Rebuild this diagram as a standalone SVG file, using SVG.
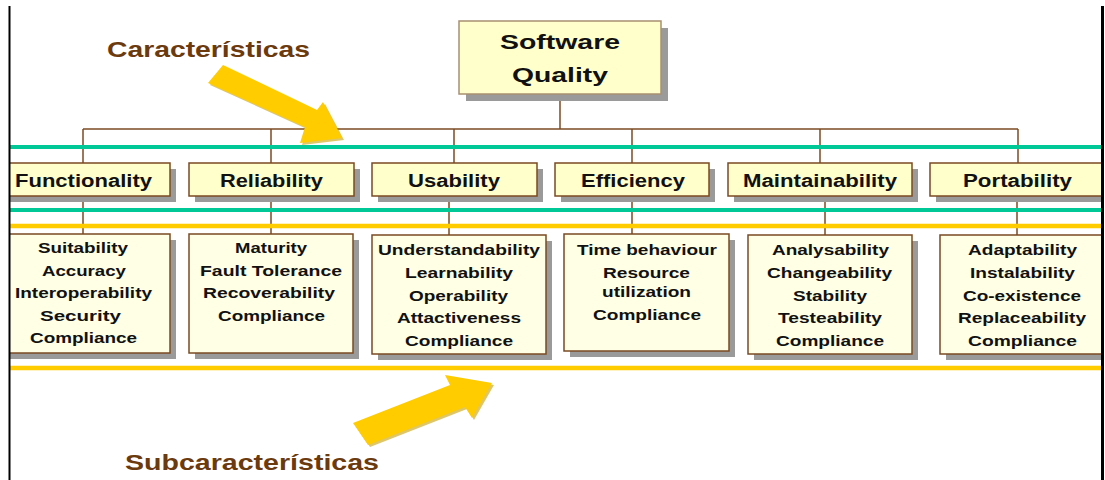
<svg xmlns="http://www.w3.org/2000/svg" width="1105" height="480" viewBox="0 0 1105 480">
<style>
text{font-family:"Liberation Sans",Arial,sans-serif;font-weight:bold;fill:#111}
.top{font-size:21px}
.ch{font-size:18px}
.sb{font-size:15px}
.ttl{font-size:22px;fill:#6B3A0E}
.shadow{fill:#9a9a9a}
.cbox{fill:#FFFFCC;stroke:#7B4A22;stroke-width:1.5}
.sbox{fill:#FFFFE6;stroke:#7B4A22;stroke-width:1.5}
.tbox{fill:#FFFFCC;stroke:#A89070;stroke-width:1.5}
.con{stroke:#7B4A22;stroke-width:1.5;fill:none}
.green{stroke:#00C896;stroke-width:4}
.yellow{stroke:#FFCC00;stroke-width:4.5}
.arrow{fill:#FFCC00}
.ashadow{fill:#C9A000;opacity:0.6}
</style>
<defs>
<clipPath id="frame"><rect x="10" y="0" width="1091" height="480"/></clipPath>
</defs>
<rect x="0" y="0" width="1105" height="480" fill="#fff"/>
<g clip-path="url(#frame)">
<g id="connectors">
<line class="con" x1="560" y1="94" x2="560" y2="129"/>
<line class="con" x1="83" y1="129" x2="1018" y2="129"/>
<line class="con" x1="83" y1="129" x2="83" y2="163"/>
<line class="con" x1="271" y1="129" x2="271" y2="163"/>
<line class="con" x1="454" y1="129" x2="454" y2="163"/>
<line class="con" x1="632" y1="129" x2="632" y2="163"/>
<line class="con" x1="820" y1="129" x2="820" y2="163"/>
<line class="con" x1="1018" y1="129" x2="1018" y2="163"/>
<line class="con" x1="83" y1="196" x2="83" y2="234"/>
<line class="con" x1="271" y1="196" x2="271" y2="234"/>
<line class="con" x1="449" y1="196" x2="449" y2="235"/>
<line class="con" x1="632" y1="196" x2="632" y2="234"/>
<line class="con" x1="825" y1="196" x2="825" y2="235"/>
<line class="con" x1="1017" y1="196" x2="1017" y2="235"/>
</g>
<g id="bands">
<line class="green" x1="0" y1="147" x2="1105" y2="147"/>
<line class="green" x1="0" y1="210" x2="1105" y2="210"/>
<line class="yellow" x1="0" y1="226" x2="1105" y2="226"/>
<line class="yellow" x1="0" y1="368" x2="1105" y2="368"/>
</g>
<g id="software-quality">
<rect class="shadow" x="466" y="28" width="202" height="73"/>
<rect class="tbox" x="459" y="21" width="202" height="73"/>
<text class="top" x="500" y="49" textLength="120" lengthAdjust="spacingAndGlyphs">Software</text>
<text class="top" x="512" y="82" textLength="96" lengthAdjust="spacingAndGlyphs">Quality</text>
</g>
<g id="functionality">
<rect class="shadow" x="1" y="169" width="175" height="33"/>
<rect class="cbox" x="-5" y="163" width="175" height="33"/>
<text class="ch" x="15" y="187" textLength="137" lengthAdjust="spacingAndGlyphs">Functionality</text>
</g>
<g id="reliability">
<rect class="shadow" x="195" y="169" width="165" height="33"/>
<rect class="cbox" x="189" y="163" width="165" height="33"/>
<text class="ch" x="220" y="187" textLength="103" lengthAdjust="spacingAndGlyphs">Reliability</text>
</g>
<g id="usability">
<rect class="shadow" x="378" y="169" width="165" height="33"/>
<rect class="cbox" x="372" y="163" width="165" height="33"/>
<text class="ch" x="408" y="187" textLength="92" lengthAdjust="spacingAndGlyphs">Usability</text>
</g>
<g id="efficiency">
<rect class="shadow" x="561" y="169" width="154" height="33"/>
<rect class="cbox" x="555" y="163" width="154" height="33"/>
<text class="ch" x="581" y="187" textLength="104" lengthAdjust="spacingAndGlyphs">Efficiency</text>
</g>
<g id="maintainability">
<rect class="shadow" x="734" y="169" width="184" height="33"/>
<rect class="cbox" x="728" y="163" width="184" height="33"/>
<text class="ch" x="743" y="187" textLength="154" lengthAdjust="spacingAndGlyphs">Maintainability</text>
</g>
<g id="portability">
<rect class="shadow" x="936" y="169" width="180" height="33"/>
<rect class="cbox" x="930" y="163" width="180" height="33"/>
<text class="ch" x="963" y="187" textLength="109" lengthAdjust="spacingAndGlyphs">Portability</text>
</g>
<g id="functionality-sub">
<rect class="shadow" x="1" y="240" width="175" height="119"/>
<rect class="sbox" x="-5" y="234" width="175" height="119"/>
<text class="sb" x="38" y="253" textLength="90" lengthAdjust="spacingAndGlyphs">Suitability</text>
<text class="sb" x="42" y="276" textLength="84" lengthAdjust="spacingAndGlyphs">Accuracy</text>
<text class="sb" x="15" y="298" textLength="137" lengthAdjust="spacingAndGlyphs">Interoperability</text>
<text class="sb" x="40" y="321" textLength="81" lengthAdjust="spacingAndGlyphs">Security</text>
<text class="sb" x="30" y="343" textLength="107" lengthAdjust="spacingAndGlyphs">Compliance</text>
</g>
<g id="reliability-sub">
<rect class="shadow" x="195" y="240" width="164" height="119"/>
<rect class="sbox" x="189" y="234" width="164" height="119"/>
<text class="sb" x="235" y="253" textLength="72" lengthAdjust="spacingAndGlyphs">Maturity</text>
<text class="sb" x="200" y="276" textLength="142" lengthAdjust="spacingAndGlyphs">Fault Tolerance</text>
<text class="sb" x="203" y="298" textLength="132" lengthAdjust="spacingAndGlyphs">Recoverability</text>
<text class="sb" x="218" y="321" textLength="107" lengthAdjust="spacingAndGlyphs">Compliance</text>
</g>
<g id="usability-sub">
<rect class="shadow" x="378" y="241" width="174" height="119"/>
<rect class="sbox" x="372" y="235" width="174" height="119"/>
<text class="sb" x="378" y="255" textLength="162" lengthAdjust="spacingAndGlyphs">Understandability</text>
<text class="sb" x="405" y="278" textLength="108" lengthAdjust="spacingAndGlyphs">Learnability</text>
<text class="sb" x="409" y="301" textLength="99" lengthAdjust="spacingAndGlyphs">Operability</text>
<text class="sb" x="397" y="323" textLength="124" lengthAdjust="spacingAndGlyphs">Attactiveness</text>
<text class="sb" x="405" y="346" textLength="108" lengthAdjust="spacingAndGlyphs">Compliance</text>
</g>
<g id="efficiency-sub">
<rect class="shadow" x="570" y="240" width="165" height="117"/>
<rect class="sbox" x="564" y="234" width="165" height="117"/>
<text class="sb" x="577" y="255" textLength="140" lengthAdjust="spacingAndGlyphs">Time behaviour</text>
<text class="sb" x="603" y="278" textLength="87" lengthAdjust="spacingAndGlyphs">Resource</text>
<text class="sb" x="602" y="297" textLength="89" lengthAdjust="spacingAndGlyphs">utilization</text>
<text class="sb" x="593" y="320" textLength="108" lengthAdjust="spacingAndGlyphs">Compliance</text>
</g>
<g id="maintainability-sub">
<rect class="shadow" x="754" y="241" width="164" height="119"/>
<rect class="sbox" x="748" y="235" width="164" height="119"/>
<text class="sb" x="772" y="255" textLength="117" lengthAdjust="spacingAndGlyphs">Analysability</text>
<text class="sb" x="767" y="278" textLength="125" lengthAdjust="spacingAndGlyphs">Changeability</text>
<text class="sb" x="793" y="301" textLength="74" lengthAdjust="spacingAndGlyphs">Stability</text>
<text class="sb" x="778" y="323" textLength="104" lengthAdjust="spacingAndGlyphs">Testeability</text>
<text class="sb" x="776" y="346" textLength="108" lengthAdjust="spacingAndGlyphs">Compliance</text>
</g>
<g id="portability-sub">
<rect class="shadow" x="946" y="241" width="170" height="119"/>
<rect class="sbox" x="940" y="235" width="170" height="119"/>
<text class="sb" x="968" y="255" textLength="109" lengthAdjust="spacingAndGlyphs">Adaptability</text>
<text class="sb" x="970" y="278" textLength="105" lengthAdjust="spacingAndGlyphs">Instalability</text>
<text class="sb" x="963" y="301" textLength="118" lengthAdjust="spacingAndGlyphs">Co-existence</text>
<text class="sb" x="958" y="323" textLength="128" lengthAdjust="spacingAndGlyphs">Replaceability</text>
<text class="sb" x="968" y="346" textLength="109" lengthAdjust="spacingAndGlyphs">Compliance</text>
</g>
<g id="caracteristicas">
<text class="ttl" x="107" y="57" textLength="203" lengthAdjust="spacingAndGlyphs">Características</text>
<polygon class="ashadow" points="225,67 319,112 325,104 344,140 302,145 307,129 210,85"/>
<polygon class="arrow" points="223,65 317,110 323,102 342,138 300,143 305,127 208,83"/>
</g>
<g id="subcaracteristicas">
<text class="ttl" x="125" y="470" textLength="254" lengthAdjust="spacingAndGlyphs">Subcaracterísticas</text>
<polygon class="ashadow" points="355,425 452,387 447,377 494,385 474,420 467,409 370,447"/>
<polygon class="arrow" points="353,423 450,385 445,375 492,383 472,418 465,407 368,445"/>
</g>
</g>
<g id="frame-lines">
<rect x="8.5" y="6" width="2" height="474" fill="#000"/>
<rect x="1101" y="6" width="3" height="474" fill="#000"/>
</g>
</svg>
